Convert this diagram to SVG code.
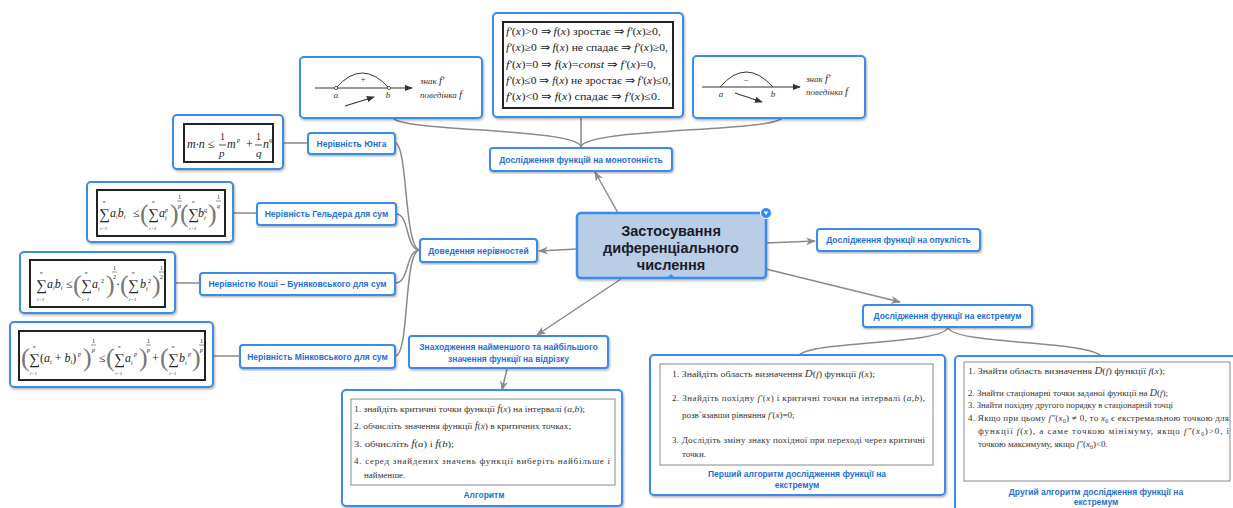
<svg xmlns="http://www.w3.org/2000/svg" width="1233" height="508" viewBox="0 0 1233 508">
<defs>
<filter id="sh" x="-5%" y="-5%" width="110%" height="115%"><feDropShadow dx="1" dy="1.5" stdDeviation="1" flood-color="#000" flood-opacity="0.3"/></filter>
<marker id="ah" viewBox="0 0 10 8" refX="9" refY="4" markerWidth="10" markerHeight="8" markerUnits="userSpaceOnUse" orient="auto"><path d="M0,0 L10,4 L0,8 L3,4 z" fill="#8a8a8a"/></marker>
<marker id="sa" viewBox="0 0 10 8" refX="9" refY="4" markerWidth="8" markerHeight="7" markerUnits="userSpaceOnUse" orient="auto"><path d="M0,0 L10,4 L0,8 z" fill="#333"/></marker>
<style>
.box{fill:#fff;stroke:#3b8beb;stroke-width:2;filter:url(#sh)}
.lb{font-family:"Liberation Sans",Arial,sans-serif;font-weight:bold;font-size:8.5px;fill:#1f6fd6;text-anchor:middle}
.conn{fill:none;stroke:#8a8a8a;stroke-width:1.5}
.fb{fill:#fff;stroke:#222;stroke-width:2}
.ib{fill:#fff;stroke:#888;stroke-width:1}
.m{font-family:"Liberation Serif","Times New Roman",serif;fill:#222}
.m text[font-size="26"]{fill:#777}
.i{font-style:italic}
.t{font-family:"Liberation Serif","Times New Roman",serif;font-size:9px;fill:#333}
.g{font-family:"Liberation Serif","Times New Roman",serif;font-style:italic;font-size:9px;fill:#333}
</style>
</defs>

<g id="connectors">
<path class="conn" d="M618,213 L595,172" marker-end="url(#ah)"/>
<path class="conn" d="M577,249 L539,251" marker-end="url(#ah)"/>
<path class="conn" d="M766,243 L815,241" marker-end="url(#ah)"/>
<path class="conn" d="M766,269 L900,302" marker-end="url(#ah)"/>
<path class="conn" d="M621,279 L537,335" marker-end="url(#ah)"/>
<path class="conn" d="M507,369 L502,390" marker-end="url(#ah)"/>
<path class="conn" d="M581,147 L581,117"/>
<path class="conn" d="M581,147 C578,128 402,132 393,118"/>
<path class="conn" d="M581,147 C584,128 772,132 782,118"/>
<path class="conn" d="M420,250 C404,250 408,143 395,143"/>
<path class="conn" d="M420,250 C405,250 410,214 396,214"/>
<path class="conn" d="M420,250 C405,250 410,283 395,283"/>
<path class="conn" d="M420,250 C403,250 410,356 395,356"/>
<path class="conn" d="M283,143 L308,143"/>
<path class="conn" d="M233,213 L257,213"/>
<path class="conn" d="M175,283 L200,283"/>
<path class="conn" d="M213,356 L240,356"/>
<path class="conn" d="M948,327 C945,345 810,340 798,356"/>
<path class="conn" d="M948,327 C951,345 1090,340 1102,357"/>
</g>

<g id="center">
<rect x="577" y="213" width="189" height="65" rx="4" fill="#b9cde6" stroke="#3b8beb" stroke-width="2.5" filter="url(#sh)"/>
<g font-family="'Liberation Sans',Arial,sans-serif" font-size="14.5" font-weight="bold" fill="#1b1b2b" text-anchor="middle">
<text x="671" y="236">Застосування</text>
<text x="671" y="253">диференціального</text>
<text x="671" y="270">числення</text>
</g>
<circle cx="766" cy="213" r="5.5" fill="#2f8cf0" stroke="#fff" stroke-width="1"/>
<path d="M763.5,211.5 L768.5,211.5 L766,215 z" fill="#fff"/>
<path d="M667,278 L671,274 L675,278 z" fill="#3b8beb"/>
</g>

<g id="monotonicity">
<rect class="box" x="490" y="148" width="182" height="23" rx="3"/>
<text class="lb" x="581" y="163">Дослідження функцій на монотонність</text>
</g>

<g id="mono-table">
<rect class="box" x="493" y="13" width="190" height="104" rx="4"/>
<rect class="fb" x="503" y="22" width="170" height="86"/>
<g class="m" font-size="10.5">
<text x="506" y="35" textLength="155" lengthAdjust="spacingAndGlyphs"><tspan class="i">f′</tspan>(<tspan class="i">x</tspan>)&gt;0 ⇒ <tspan class="i">f</tspan>(<tspan class="i">x</tspan>) зростає ⇒ <tspan class="i">f′</tspan>(<tspan class="i">x</tspan>)≥0,</text>
<text x="506" y="51" textLength="162" lengthAdjust="spacingAndGlyphs"><tspan class="i">f′</tspan>(<tspan class="i">x</tspan>)≥0 ⇒ <tspan class="i">f</tspan>(<tspan class="i">x</tspan>) не спадає ⇒ <tspan class="i">f′</tspan>(<tspan class="i">x</tspan>)≥0,</text>
<text x="506" y="68" textLength="150" lengthAdjust="spacingAndGlyphs"><tspan class="i">f′</tspan>(<tspan class="i">x</tspan>)=0 ⇒ <tspan class="i">f</tspan>(<tspan class="i">x</tspan>)=<tspan class="i">const</tspan> ⇒ <tspan class="i">f′</tspan>(<tspan class="i">x</tspan>)=0,</text>
<text x="506" y="84" textLength="165" lengthAdjust="spacingAndGlyphs"><tspan class="i">f′</tspan>(<tspan class="i">x</tspan>)≤0 ⇒ <tspan class="i">f</tspan>(<tspan class="i">x</tspan>) не зростає ⇒ <tspan class="i">f′</tspan>(<tspan class="i">x</tspan>)≤0,</text>
<text x="506" y="100" textLength="154" lengthAdjust="spacingAndGlyphs"><tspan class="i">f′</tspan>(<tspan class="i">x</tspan>)&lt;0 ⇒ <tspan class="i">f</tspan>(<tspan class="i">x</tspan>) спадає ⇒ <tspan class="i">f′</tspan>(<tspan class="i">x</tspan>)≤0.</text>
</g>
</g>

<g id="graph-plus">
<rect class="box" x="300" y="57" width="182" height="61" rx="4"/>
<path d="M315,88 L412,88" stroke="#333" stroke-width="1" marker-end="url(#sa)"/>
<path d="M336,88 Q362,58 389,88" fill="none" stroke="#333" stroke-width="1"/>
<circle cx="336" cy="88" r="1.6" fill="#fff" stroke="#333" stroke-width="0.8"/>
<circle cx="389" cy="88" r="1.6" fill="#fff" stroke="#333" stroke-width="0.8"/>
<text class="g" x="363" y="82" text-anchor="middle" font-style="normal" font-size="8">+</text>
<text class="g" x="336" y="98" text-anchor="middle">a</text>
<text class="g" x="388" y="98" text-anchor="middle">b</text>
<path d="M345,106 L374,97" stroke="#333" stroke-width="1.2" marker-end="url(#sa)"/>
<text class="g" x="420" y="84">знак <tspan font-size="11">f′</tspan></text>
<text class="g" x="420" y="98">поведінка <tspan font-size="11">f</tspan></text>
</g>

<g id="graph-minus">
<rect class="box" x="693" y="56" width="172" height="62" rx="4"/>
<path d="M702,87 L800,87" stroke="#333" stroke-width="1.2" marker-end="url(#sa)"/>
<path d="M720,87 Q746,57 773,87" fill="none" stroke="#333" stroke-width="1"/>
<text class="g" x="746" y="82" text-anchor="middle" font-style="normal">–</text>
<text class="g" x="721" y="97" text-anchor="middle">a</text>
<text class="g" x="773" y="97" text-anchor="middle">b</text>
<path d="M735,93 L762,102" stroke="#333" stroke-width="1.2" marker-end="url(#sa)"/>
<text class="g" x="806" y="82">знак <tspan font-size="11">f′</tspan></text>
<text class="g" x="806" y="95">поведінка <tspan font-size="11">f</tspan></text>
</g>

<g id="young-label">
<rect class="box" x="308" y="133" width="87" height="21" rx="3"/>
<text class="lb" x="351.5" y="146.5">Нерівність Юнга</text>
</g>
<g id="young-formula">
<rect class="box" x="173" y="115" width="110" height="54" rx="4"/>
<rect class="fb" x="184" y="124" width="89" height="38"/>
<g class="m i" font-size="12">
<text x="187" y="148">m·n ≤</text>
<text x="220" y="140" font-size="10" font-style="normal">1</text>
<text x="219" y="157" font-size="11">p</text>
<text x="227" y="148">m</text>
<text x="237" y="142" font-size="6">p</text>
<text x="246" y="148" font-style="normal">+</text>
<text x="256" y="140" font-size="10" font-style="normal">1</text>
<text x="256" y="157" font-size="11">q</text>
<text x="263" y="148">n</text>
<text x="269" y="142" font-size="6">q</text>
</g>
<path d="M219,145 H226 M255,145 H262" stroke="#222" stroke-width="0.8"/>
</g>

<g id="holder-label">
<rect class="box" x="257" y="203" width="139" height="22" rx="3"/>
<text class="lb" x="326.5" y="217">Нерівність Гельдера для сум</text>
</g>
<g id="holder-formula">
<rect class="box" x="87" y="182" width="146" height="60" rx="4"/>
<rect class="fb" x="97" y="190" width="128" height="46"/>
<g class="m" font-size="15">
<text x="99" y="219">∑</text><text x="103" y="203" font-size="5" class="i">n</text><text x="100" y="230" font-size="5" class="i">i=1</text>
<text x="110" y="217" font-size="12" class="i">a<tspan font-size="6" dy="2">i</tspan><tspan dy="-2">b</tspan><tspan font-size="6" dy="2">i</tspan></text>
<text x="133" y="217" font-size="12">≤</text>
<text x="140" y="222" font-size="26">(</text>
<text x="148" y="219">∑</text><text x="152" y="203" font-size="5" class="i">n</text><text x="149" y="230" font-size="5" class="i">i=1</text>
<text x="159" y="217" font-size="12" class="i">a</text><text x="165" y="212" font-size="6" class="i">p</text><text x="165" y="220" font-size="6" class="i">i</text>
<text x="170" y="222" font-size="26">)</text>
<text x="178" y="199" font-size="6">1</text><text x="178" y="208" font-size="6" class="i">p</text>
<text x="180" y="222" font-size="26">(</text>
<text x="188" y="219">∑</text><text x="192" y="203" font-size="5" class="i">n</text><text x="189" y="230" font-size="5" class="i">i=1</text>
<text x="198" y="217" font-size="12" class="i">b</text><text x="204" y="212" font-size="6" class="i">q</text><text x="204" y="220" font-size="6" class="i">i</text>
<text x="208" y="222" font-size="26">)</text>
<text x="217" y="199" font-size="6">1</text><text x="217" y="208" font-size="6" class="i">q</text>
</g>
<path d="M177,201 H182 M216,201 H221" stroke="#222" stroke-width="0.5"/>
</g>

<g id="cauchy-label">
<rect class="box" x="200" y="273" width="195" height="22" rx="3"/>
<text class="lb" x="297.5" y="287">Нерівністю Коші – Буняковського для сум</text>
</g>
<g id="cauchy-formula">
<rect class="box" x="20" y="252" width="155" height="61" rx="4"/>
<rect class="fb" x="30" y="260" width="135" height="47"/>
<g class="m" font-size="15">
<text x="36" y="290">∑</text><text x="40" y="274" font-size="5" class="i">n</text><text x="37" y="301" font-size="5" class="i">i=1</text>
<text x="47" y="288" font-size="12" class="i">a<tspan font-size="6" dy="2">i</tspan><tspan dy="-2">b</tspan><tspan font-size="6" dy="2">i</tspan></text>
<text x="66" y="288" font-size="12">≤</text>
<text x="73" y="293" font-size="26">(</text>
<text x="81" y="290">∑</text><text x="85" y="274" font-size="5" class="i">n</text><text x="82" y="301" font-size="5" class="i">i=1</text>
<text x="92" y="288" font-size="12" class="i">a</text><text x="98" y="291" font-size="6" class="i">i</text><text x="101" y="283" font-size="6">2</text>
<text x="106" y="293" font-size="26">)</text>
<text x="113" y="270" font-size="6">1</text><text x="113" y="279" font-size="6">2</text>
<text x="116" y="288" font-size="12">·</text>
<text x="120" y="293" font-size="26">(</text>
<text x="128" y="290">∑</text><text x="132" y="274" font-size="5" class="i">n</text><text x="129" y="301" font-size="5" class="i">i=1</text>
<text x="140" y="288" font-size="12" class="i">b</text><text x="146" y="291" font-size="6" class="i">i</text><text x="148" y="283" font-size="6">2</text>
<text x="152" y="293" font-size="26">)</text>
<text x="160" y="270" font-size="6">1</text><text x="160" y="279" font-size="6">2</text>
</g>
<path d="M112,272 H117 M159,272 H164" stroke="#222" stroke-width="0.5"/>
</g>

<g id="minkowski-label">
<rect class="box" x="240" y="345" width="155" height="23" rx="3"/>
<text class="lb" x="317.5" y="359.5">Нерівність Мінковського для сум</text>
</g>
<g id="minkowski-formula">
<rect class="box" x="10" y="322" width="203" height="65" rx="4"/>
<rect class="fb" x="19" y="331" width="186" height="49"/>
<g class="m" font-size="15">
<text x="21" y="366" font-size="26">(</text>
<text x="29" y="364">∑</text><text x="33" y="348" font-size="5" class="i">n</text><text x="30" y="375" font-size="5" class="i">i=1</text>
<text x="40" y="362" font-size="12">(<tspan class="i">a</tspan><tspan font-size="6" dy="2" class="i">i</tspan><tspan dy="-2"> + </tspan><tspan class="i">b</tspan><tspan font-size="6" dy="2" class="i">i</tspan><tspan dy="-2">)</tspan></text>
<text x="78" y="356" font-size="6" class="i">p</text>
<text x="83" y="366" font-size="26">)</text>
<text x="92" y="343" font-size="6">1</text><text x="92" y="352" font-size="6" class="i">p</text>
<text x="99" y="362" font-size="12">≤</text>
<text x="106" y="366" font-size="26">(</text>
<text x="114" y="364">∑</text><text x="118" y="348" font-size="5" class="i">n</text><text x="115" y="375" font-size="5" class="i">i=1</text>
<text x="125" y="362" font-size="12" class="i">a</text><text x="131" y="365" font-size="6" class="i">i</text><text x="134" y="356" font-size="6" class="i">p</text>
<text x="139" y="366" font-size="26">)</text>
<text x="147" y="343" font-size="6">1</text><text x="147" y="352" font-size="6" class="i">p</text>
<text x="152" y="362" font-size="12">+</text>
<text x="160" y="366" font-size="26">(</text>
<text x="168" y="364">∑</text><text x="172" y="348" font-size="5" class="i">n</text><text x="169" y="375" font-size="5" class="i">i=1</text>
<text x="179" y="362" font-size="12" class="i">b</text><text x="185" y="365" font-size="6" class="i">i</text><text x="188" y="356" font-size="6" class="i">p</text>
<text x="192" y="366" font-size="26">)</text>
<text x="200" y="343" font-size="6">1</text><text x="200" y="352" font-size="6" class="i">p</text>
</g>
<path d="M91,345 H96 M146,345 H151 M199,345 H204" stroke="#222" stroke-width="0.5"/>
</g>

<g id="proof">
<rect class="box" x="420" y="239" width="117" height="23" rx="3"/>
<text class="lb" x="478.5" y="253.5">Доведення нерівностей</text>
</g>

<g id="convexity">
<rect class="box" x="817" y="229" width="163" height="22" rx="3"/>
<text class="lb" x="898.5" y="243">Дослідження функції на опуклість</text>
</g>

<g id="extremum">
<rect class="box" x="863" y="305" width="169" height="22" rx="3"/>
<text class="lb" x="947.5" y="319">Дослідження функції на екстремум</text>
</g>

<g id="minmax">
<rect class="box" x="409" y="336" width="199" height="32" rx="3"/>
<text class="lb" x="508.5" y="349.5">Знаходження найменшого та найбільшого</text>
<text class="lb" x="508.5" y="361.5">значення функції на відрізку</text>
</g>

<g id="algorithm">
<rect class="box" x="342" y="390" width="280" height="116" rx="4"/>
<rect class="ib" x="351" y="399" width="264" height="86"/>
<text class="t" x="354" y="412" textLength="231" lengthAdjust="spacingAndGlyphs">1. знайдіть критичні точки функції <tspan class="i" font-size="10">f</tspan>(<tspan class="i">x</tspan>) на інтервалі (<tspan class="i">a</tspan>,<tspan class="i">b</tspan>);</text>
<text class="t" x="354" y="429" textLength="217" lengthAdjust="spacingAndGlyphs">2. обчисліть значення функції <tspan class="i" font-size="10">f</tspan>(<tspan class="i">x</tspan>) в критичних точках;</text>
<text class="t" x="354" y="447" textLength="100" lengthAdjust="spacingAndGlyphs">3. обчисліть <tspan class="i" font-size="10">f</tspan>(<tspan class="i">a</tspan>) і <tspan class="i" font-size="10">f</tspan>(<tspan class="i">b</tspan>);</text>
<text class="t" x="354" y="464" textLength="256" lengthAdjust="spacing">4. серед   знайдених   значень   функції   виберіть   найбільше   і</text>
<text class="t" x="364" y="478">найменше.</text>
<text class="lb" x="484" y="498">Алгоритм</text>
</g>

<g id="extremum-alg1">
<rect class="box" x="650" y="355" width="295" height="140" rx="4"/>
<rect class="ib" x="660" y="364" width="273" height="101"/>
<text class="t" x="672" y="377" textLength="203" lengthAdjust="spacingAndGlyphs">1. Знайдіть область визначення <tspan class="i" font-size="10">D</tspan>(<tspan class="i">f</tspan>) функції <tspan class="i">f</tspan>(<tspan class="i">x</tspan>);</text>
<text class="t" x="672" y="401" textLength="253" lengthAdjust="spacing">2. Знайдіть похідну  <tspan class="i">f′</tspan>(<tspan class="i">x</tspan>)  і  критичні  точки  на  інтервалі  (<tspan class="i">a</tspan>,<tspan class="i">b</tspan>),</text>
<text class="t" x="682" y="418">розв`язавши рівняння <tspan class="i">f′</tspan>(<tspan class="i">x</tspan>)=0;</text>
<text class="t" x="672" y="443" textLength="253" lengthAdjust="spacing">3. Дослідіть зміну знаку похідної при переході через критичні</text>
<text class="t" x="682" y="457">точки.</text>
<text class="lb" x="797" y="477">Перший алгоритм дослідження функції на</text>
<text class="lb" x="797" y="488">екстремум</text>
</g>

<g id="extremum-alg2">
<rect class="box" x="955" y="356" width="285" height="160" rx="4"/>
<rect class="ib" x="964" y="362" width="266" height="119"/>
<text class="t" x="968" y="374" textLength="197" lengthAdjust="spacingAndGlyphs">1. Знайти область визначення <tspan class="i" font-size="10">D</tspan>(<tspan class="i">f</tspan>) функції <tspan class="i">f</tspan>(<tspan class="i">x</tspan>);</text>
<text class="t" x="968" y="396" textLength="200" lengthAdjust="spacingAndGlyphs">2. Знайти стаціонарні точки заданої функції на <tspan class="i" font-size="10">D</tspan>(<tspan class="i">f</tspan>);</text>
<text class="t" x="968" y="408" textLength="205" lengthAdjust="spacingAndGlyphs">3. Знайти похідну другого порядку в стаціонарній точці</text>
<text class="t" x="968" y="421" textLength="261" lengthAdjust="spacing">4. Якщо при цьому <tspan class="i">f″</tspan>(<tspan class="i">x</tspan><tspan font-size="6" dy="2">0</tspan><tspan dy="-2">) ≠ 0, то </tspan><tspan class="i">x</tspan><tspan font-size="6" dy="2">0</tspan><tspan dy="-2"> є екстремальною точкою для</tspan></text>
<text class="t" x="978" y="434" textLength="251" lengthAdjust="spacing">функції  <tspan class="i">f</tspan>(<tspan class="i">x</tspan>),  а  саме  точкою  мінімуму,  якщо  <tspan class="i">f″</tspan>(<tspan class="i">x</tspan><tspan font-size="6" dy="2">0</tspan><tspan dy="-2">)&gt;0,  і</tspan></text>
<text class="t" x="978" y="447">точкою максимуму, якщо <tspan class="i">f″</tspan>(<tspan class="i">x</tspan><tspan font-size="6" dy="2">0</tspan><tspan dy="-2">)&lt;0.</tspan></text>
<text class="lb" x="1096" y="495">Другий алгоритм дослідження функції на</text>
<text class="lb" x="1096" y="505">екстремум</text>
</g>
</svg>
